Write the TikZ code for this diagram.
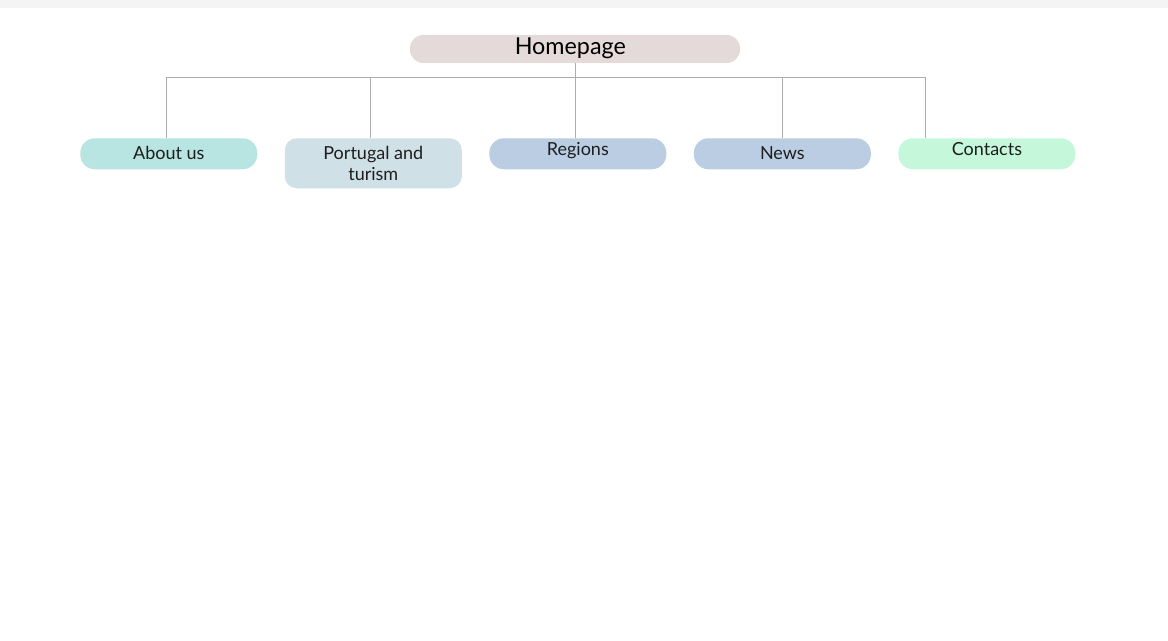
\documentclass[tikz,border=0pt]{standalone}
\usepackage{fontspec}
\setmainfont{Lato}
\usepackage{xcolor}
\usetikzlibrary{positioning,calc}
\definecolor{SMstrip}{RGB}{244,244,244}
\definecolor{SMhome}{RGB}{227,218,217}
\definecolor{SMteal}{RGB}{184,228,225}
\definecolor{SMgrey}{RGB}{207,224,230}
\definecolor{SMblue}{RGB}{186,205,227}
\definecolor{SMmint}{RGB}{197,247,219}
\definecolor{SMline}{RGB}{172,172,172}
\definecolor{SMtext}{RGB}{30,30,30}
\tikzstyle{pbox}  = [rectangle, rounded corners=11pt, inner sep=0pt,
                     minimum width=132.75pt, minimum height=23.25pt,
                     align=center, text=SMtext,
                     font=\fontsize{13.5}{15.2}\selectfont]
\tikzstyle{Bhome} = [pbox, fill=SMhome, text=black, rounded corners=10pt,
                     minimum width=247.5pt, minimum height=21pt,
                     text height=13pt, text depth=4pt,
                     font=\fontsize{17.5}{20}\selectfont]
\tikzstyle{Babout} = [pbox, fill=SMteal, text height=10pt, text depth=1.3pt]
\tikzstyle{Bport} = [pbox, fill=SMgrey, rounded corners=9pt,
                     minimum height=37.5pt, text depth=0pt,
                     font=\fontsize{13.5}{15.8}\selectfont]
\tikzstyle{Breg}  = [pbox, fill=SMblue, text height=10pt, text depth=6.7pt]
\tikzstyle{Bnews} = [pbox, fill=SMblue, text height=10pt, text depth=1.3pt]
\tikzstyle{Bcont} = [pbox, fill=SMmint, text height=10pt, text depth=6.7pt]
\tikzstyle{link}  = [draw=SMline, line width=0.75pt]
\begin{document}
\begin{tikzpicture}[x=0.75pt, y=-0.75pt, node distance=20.25pt]
  \useasboundingbox (0,0) rectangle (1168,641);
  \fill[SMstrip] (0,0) rectangle (1168,8);
  \node[Bhome] (home) at (575,49) {Homepage\hspace{7pt}};
  \node[Babout, anchor=north west] (about) at (80,138) {About us};
  \node[Bport, right=of about.north east, anchor=north west] (port) {Portugal and\\turism};
  \node[Breg, right=of port.north east, anchor=north west] (regions) {Regions};
  \node[Bnews, right=of regions.north east, anchor=north west] (news) {News};
  \node[Bcont, right=of news.north east, anchor=north west] (contacts) {Contacts};
  % connectors
  \coordinate (bus) at ($(home.south)+(0,14.5)$);
  \draw[link] (home.south) -- (home.south |- regions.north);
  \draw[link] ([xshift=-1.9pt]about.north) |- (bus) -| ([xshift=-46pt]contacts.north);
  \draw[link] ([xshift=-1.9pt]port.north) -- ++(0,-60.5);
  \draw[link] (news.north) -- (news.north |- bus);
\end{tikzpicture}
\end{document}
